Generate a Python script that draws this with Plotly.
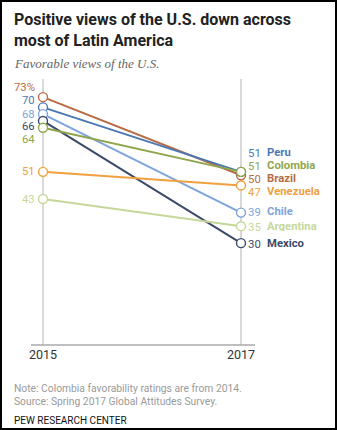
import plotly.graph_objects as go

# ---- data ----
countries = ["Brazil", "Peru", "Chile", "Mexico", "Colombia", "Venezuela", "Argentina"]
years = [2015, 2017]
v2015 = [73, 70, 68, 66, 64, 51, 43]
v2017 = [50, 51, 39, 30, 51, 47, 35]
year_labels = ["2015", "2017"]

colors = {
    "Brazil": "#B96B44",
    "Peru": "#4A78B4",
    "Chile": "#7EA4DD",
    "Mexico": "#3B4A69",
    "Colombia": "#8FA64C",
    "Venezuela": "#F0A03F",
    "Argentina": "#C6D79A",
}
# label pixel offsets (style only)
left_shift = {"Brazil": 9.5, "Peru": 6.5, "Chile": 0, "Mexico": -6, "Colombia": -11.5, "Venezuela": 0, "Argentina": 0}
right_shift = {"Brazil": -3.5, "Peru": 19.5, "Chile": 1, "Mexico": 0, "Colombia": 6.5, "Venezuela": -6.5, "Argentina": 0}

W, H = 337, 430
L, R, T, B = 31, 82, 79, 85
PW, PH = W - L - R, H - T - B

def px(x):
    return (x - L) / PW

def py(y):
    return (H - B - y) / PH

FONT = "Roboto"
fig = go.Figure()

for i, c in enumerate(countries):
    fig.add_trace(go.Scatter(
        x=years, y=[v2015[i], v2017[i]], mode="lines+markers",
        line=dict(color=colors[c], width=2),
        marker=dict(size=9, color="white", line=dict(color=colors[c], width=1.4)),
        showlegend=False, hoverinfo="skip", cliponaxis=False,
    ))

ann = []
for i, c in enumerate(countries):
    lt = f"{v2015[i]}%" if i == 0 else str(v2015[i])
    ann.append(dict(x=years[0], y=v2015[i], xref="x", yref="y", text=lt, showarrow=False,
                    xanchor="right", yanchor="middle", xshift=-6, yshift=left_shift[c],
                    height=9, valign="middle",
                    font=dict(family=FONT, size=11.3, color=colors[c])))
    ann.append(dict(x=years[1], y=v2017[i], xref="x", yref="y", text=str(v2017[i]), showarrow=False,
                    xanchor="left", yanchor="middle", xshift=5, yshift=right_shift[c],
                    height=9, valign="middle",
                    font=dict(family=FONT, size=11.4, color=colors[c])))
    ann.append(dict(x=years[1], y=v2017[i], xref="x", yref="y", text=f"<b>{c}</b>", showarrow=False,
                    xanchor="left", yanchor="middle", xshift=24, yshift=right_shift[c],
                    height=9, valign="middle",
                    font=dict(family=FONT, size=11.3, color=colors[c])))

ann.append(dict(x=px(12), y=py(8), xref="paper", yref="paper", xanchor="left", yanchor="top",
                align="left", showarrow=False,
                text="<b>Positive views of the U.S. down across<br>most of Latin America</b>",
                font=dict(family=FONT, size=16, color="#222222")))
ann.append(dict(x=px(12), y=py(64), xref="paper", yref="paper", xanchor="left", yanchor="middle",
                showarrow=False, text="<i>Favorable views of the U.S.</i>",
                font=dict(family="Liberation Serif", size=13, color="#666666")))
ann.append(dict(x=px(12), y=py(388), xref="paper", yref="paper", xanchor="left", yanchor="middle",
                showarrow=False, text="Note: Colombia favorability ratings are from 2014.",
                font=dict(family=FONT, size=10.3, color="#9a9a9a")))
ann.append(dict(x=px(12), y=py(401), xref="paper", yref="paper", xanchor="left", yanchor="middle",
                showarrow=False, text="Source: Spring 2017 Global Attitudes Survey.",
                font=dict(family=FONT, size=10.3, color="#9a9a9a")))
ann.append(dict(x=px(12), y=py(420), xref="paper", yref="paper", xanchor="left", yanchor="middle",
                showarrow=False, text="PEW RESEARCH CENTER",
                font=dict(family=FONT, size=10, color="#111111")))

shapes = []
for yr in years:
    shapes.append(dict(type="line", xref="x", yref="paper", x0=yr, x1=yr, y0=0, y1=1,
                       line=dict(color="#cccccc", width=1.5), layer="below"))
shapes.append(dict(type="line", xref="paper", yref="paper", x0=0, x1=1, y0=0, y1=0,
                   line=dict(color="#aaaaaa", width=1.5), layer="below"))
shapes.append(dict(type="rect", xref="paper", yref="paper", x0=px(1), x1=px(336), y0=py(1), y1=py(429),
                   line=dict(color="black", width=2)))

fig.update_layout(
    width=W, height=H, margin=dict(l=L, r=R, t=T, b=B),
    paper_bgcolor="white", plot_bgcolor="white",
    xaxis=dict(range=[2015 - 12 / 99, 2017 + 14 / 99], tickvals=years, ticktext=year_labels,
               showgrid=False, zeroline=False, showline=False, ticks="",
               tickfont=dict(family=FONT, size=12.5, color="#333333")),
    yaxis=dict(range=[0, PH / 3.395], showgrid=False, zeroline=False, showline=False,
               showticklabels=False, fixedrange=True),
    annotations=ann, shapes=shapes,
)

fig.write_html("out.html", config={"displayModeBar": False})
